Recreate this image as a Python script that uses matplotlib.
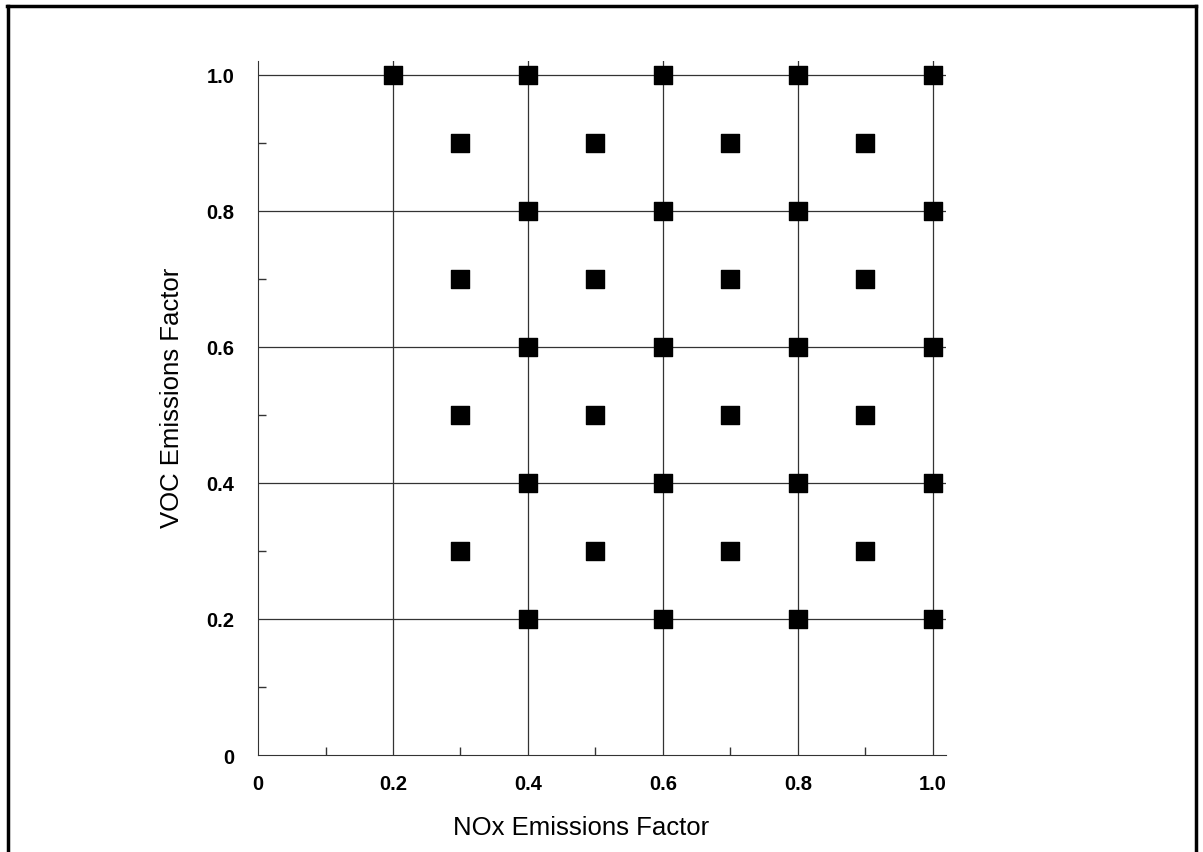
import matplotlib.pyplot as plt
from matplotlib.lines import Line2D

plt.rcParams['font.family'] = ['Liberation Sans', 'DejaVu Sans']

# data: (NOx factor, VOC factor) points of the scenario grid
nox = [0.2, 0.4, 0.6, 0.8, 1.0,
       0.3, 0.5, 0.7, 0.9,
       0.4, 0.6, 0.8, 1.0,
       0.3, 0.5, 0.7, 0.9,
       0.4, 0.6, 0.8, 1.0,
       0.3, 0.5, 0.7, 0.9,
       0.4, 0.6, 0.8, 1.0,
       0.3, 0.5, 0.7, 0.9,
       0.4, 0.6, 0.8, 1.0]
voc = [1.0, 1.0, 1.0, 1.0, 1.0,
       0.9, 0.9, 0.9, 0.9,
       0.8, 0.8, 0.8, 0.8,
       0.7, 0.7, 0.7, 0.7,
       0.6, 0.6, 0.6, 0.6,
       0.5, 0.5, 0.5, 0.5,
       0.4, 0.4, 0.4, 0.4,
       0.3, 0.3, 0.3, 0.3,
       0.2, 0.2, 0.2, 0.2]
major_ticks = [0, 0.2, 0.4, 0.6, 0.8, 1.0]
tick_labels = ['0', '0.2', '0.4', '0.6', '0.8', '1.0']
minor_ticks = [0.1, 0.3, 0.5, 0.7, 0.9]

fig = plt.figure(figsize=(12.03, 8.53), dpi=100)
ax = fig.add_axes([0.2145, 0.1137, 0.5715, 0.8136])

# grid lines
for v in major_ticks[1:]:
    ax.axvline(v, color='#333333', lw=0.9, zorder=1)
    ax.axhline(v, color='#333333', lw=0.9, zorder=1)

ax.scatter(nox, voc, marker='s', s=150, color='black', zorder=3, clip_on=False)

ax.set_xlim(0, 1.019)
ax.set_ylim(0, 1.02)
ax.spines['top'].set_visible(False)
ax.spines['right'].set_visible(False)
ax.spines['left'].set_color('#333333')
ax.spines['bottom'].set_color('#333333')

ax.set_xticks(major_ticks)
ax.set_xticklabels(tick_labels, fontsize=14.5, fontweight='bold')
ax.set_yticks(major_ticks)
ax.set_yticklabels(tick_labels, fontsize=14.5, fontweight='bold')
ax.set_xticks(minor_ticks, minor=True)
ax.set_yticks(minor_ticks, minor=True)
ax.tick_params(which='major', length=0)
ax.tick_params(axis='x', which='major', pad=14)
ax.tick_params(axis='y', which='major', pad=17)
ax.tick_params(which='minor', direction='in', length=6, width=1, color='#333333')

ax.set_xlabel('NOx Emissions Factor', fontsize=18.5)
ax.xaxis.set_label_coords(0.47, -0.104)
ax.xaxis.label.set_va('center')
ax.set_ylabel('VOC Emissions Factor', fontsize=18.5)
ax.yaxis.set_label_coords(-0.125, 0.516)
ax.yaxis.label.set_va('center')

# outer frame
fig.add_artist(Line2D([0.006, 0.994], [0.992, 0.992], color='black', lw=2.5, transform=fig.transFigure))
fig.add_artist(Line2D([0.007, 0.007], [0.0, 0.992], color='black', lw=2.5, transform=fig.transFigure))
fig.add_artist(Line2D([0.994, 0.994], [0.0, 0.992], color='black', lw=2.5, transform=fig.transFigure))

fig.savefig('out.png', dpi=100)
